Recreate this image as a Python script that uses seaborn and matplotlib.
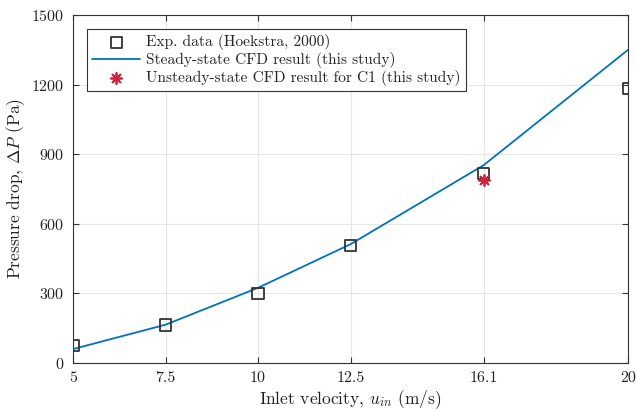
import matplotlib
matplotlib.use("Agg")
import matplotlib.pyplot as plt
import seaborn as sns
import pandas as pd

# Inlet velocities (m/s)
velocity = [5, 7.5, 10, 12.5, 16.1, 20]
# Measured pressure drop (Pa), Hoekstra 2000
exp_dp = [77, 164, 300, 506, 815, 1182]
# Steady-state CFD pressure drop (Pa)
cfd_dp = [60, 165, 324, 512, 853, 1350]
# Unsteady-state CFD for case C1
c1_velocity = [16.1]
c1_dp = [787]

xticks = [5, 7.5, 10, 12.5, 16.1, 20]
xtick_labels = ["5", "7.5", "10", "12.5", "16.1", "20"]
yticks = [0, 300, 600, 900, 1200, 1500]

sns.set_theme(style="whitegrid")
plt.rcParams.update({
    "font.family": "serif",
    "font.serif": ["cmr10", "DejaVu Serif"],
    "mathtext.fontset": "cm",
    "axes.formatter.use_mathtext": True,
    "axes.unicode_minus": False,
})

df_exp = pd.DataFrame({"u": velocity, "dp": exp_dp})
df_cfd = pd.DataFrame({"u": velocity, "dp": cfd_dp})
df_c1 = pd.DataFrame({"u": c1_velocity, "dp": c1_dp})

fig = plt.figure(figsize=(6.37, 4.11), dpi=100)
ax = fig.add_axes([0.1146, 0.1168, 0.8714, 0.8467])

sns.lineplot(data=df_cfd, x="u", y="dp", ax=ax, color="#0072BD", linewidth=1.3,
             label="Steady-state CFD result (this study)", zorder=3)
sns.scatterplot(data=df_exp, x="u", y="dp", ax=ax, marker="s", s=64,
                facecolor="none", edgecolor="#333333", linewidth=1.3,
                label="Exp. data (Hoekstra, 2000)", zorder=4)
sns.scatterplot(data=df_c1, x="u", y="dp", ax=ax, marker=(8, 2, 0), s=64,
                color="#D62040", edgecolor="#D62040", linewidth=1.3,
                label="Unsteady-state CFD result for C1 (this study)", zorder=5)

ax.set_xlim(5, 20)
ax.set_ylim(0, 1500)
ax.set_xticks(xticks)
ax.set_xticklabels(xtick_labels)
ax.set_yticks(yticks)
ax.tick_params(axis="both", direction="in", length=4, width=0.8, color="#333333",
               labelsize=11.5, labelcolor="#222222", pad=6, top=True, right=True,
               bottom=True, left=True)
ax.grid(True, color="#e6e6e6", linewidth=0.8)
for s in ax.spines.values():
    s.set_color("#333333")
    s.set_linewidth(0.8)
    s.set_visible(True)
ax.set_facecolor("white")

ax.set_xlabel(r"Inlet velocity, $u_{in}$ (m/s)", fontsize=12.5, color="#222222", labelpad=2)
ax.set_ylabel(r"Pressure drop, $\Delta P$ (Pa)", fontsize=12.5, color="#222222", labelpad=3)

handles, labels = ax.get_legend_handles_labels()
order = [labels.index("Exp. data (Hoekstra, 2000)"),
         labels.index("Steady-state CFD result (this study)"),
         labels.index("Unsteady-state CFD result for C1 (this study)")]
leg = ax.legend([handles[i] for i in order], [labels[i] for i in order],
                loc="upper left", bbox_to_anchor=(0.025, 0.96), fontsize=11.1,
                frameon=True, fancybox=False, framealpha=1, edgecolor="#333333",
                borderpad=0.35, labelspacing=0.12, handlelength=3.1, handletextpad=0.4,
                borderaxespad=0)
leg.get_frame().set_linewidth(0.8)

fig.savefig("out.png", dpi=100)
